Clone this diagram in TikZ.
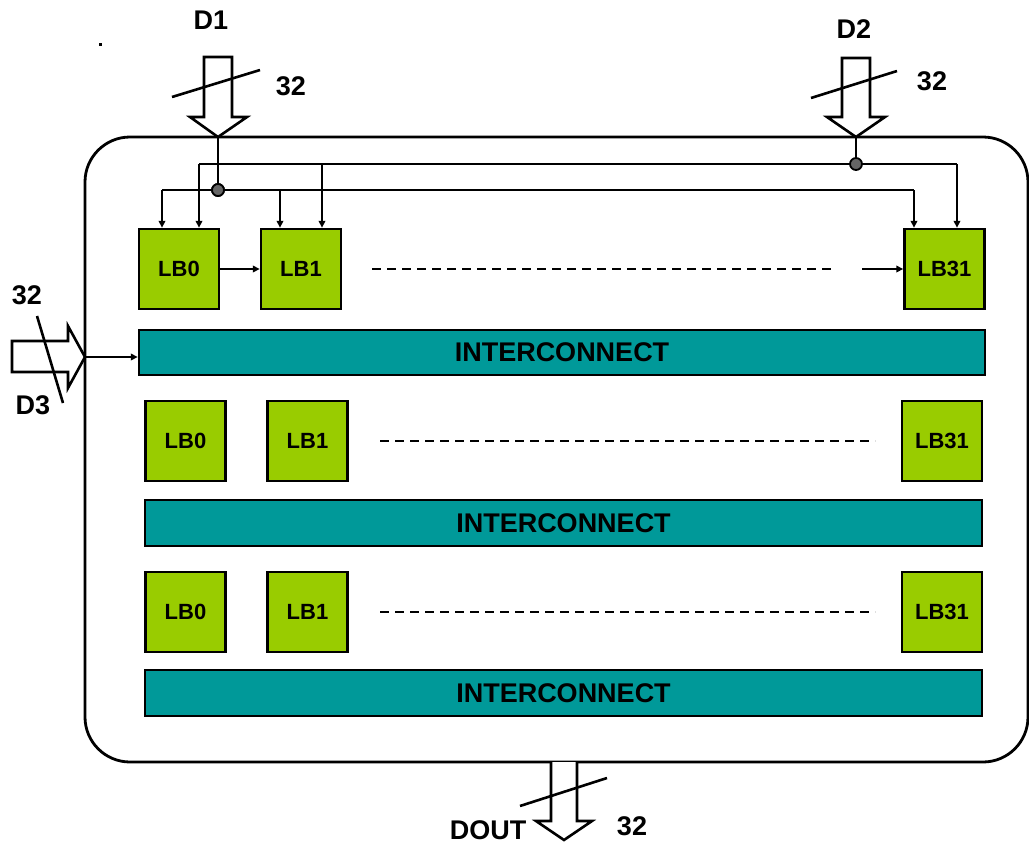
\documentclass[tikz,border=0pt]{standalone}
\usepackage{fontspec}
\setmainfont{Liberation Sans}
\usetikzlibrary{arrows.meta,calc}
\definecolor{lbgreen}{HTML}{99CC00}
\definecolor{icteal}{HTML}{009999}
\tikzset{
  lb/.style={draw=black, line width=2.4pt, fill=lbgreen, minimum width=80pt, minimum height=80pt,
             inner sep=0pt, font=\fontsize{22}{22}\selectfont\bfseries},
  ic/.style={draw=black, line width=2.4pt, fill=icteal, inner sep=0pt,
             font=\fontsize{27}{27}\selectfont\bfseries},
  lbl/.style={font=\fontsize{27}{27}\selectfont\bfseries, inner sep=0pt},
  wire/.style={line width=2.7pt},
  feed/.style={line width=2.7pt, -{Triangle[length=7pt,width=6.5pt]}},
  bus/.style={draw=black, line width=2.6pt, fill=white, line join=miter},
  slash/.style={line width=2.6pt},
  dots/.style={line width=2.8pt, dash pattern=on 9pt off 6pt},
  junction/.style={circle, draw=black, line width=1.8pt, fill=black!60, minimum size=12pt, inner sep=0pt}
}
\begin{document}
\begin{tikzpicture}[x=1pt,y=-1pt]
\useasboundingbox (0,0) rectangle (1029,844);
\fill[white] (0,0) rectangle (1029,844);

% chip outline
\draw[line width=2.8pt, rounded corners=45pt] (85,137) rectangle (1028,762);
\fill (98.5,42.5) rectangle (101.5,45.5);

% logic blocks and interconnect rows
\node[lb] (a0) at (179,269) {LB0};
\node[lb] (a1) at (301,269) {LB1};
\node[lb] (a31) at (944.5,269) {LB31};
\node[ic, minimum width=846pt, minimum height=45pt] (ic1) at (562,352.5) {INTERCONNECT};

\node[lb] (b0) at (185.5,441) {LB0};
\node[lb] (b1) at (307.5,441) {LB1};
\node[lb] (b31) at (942,441) {LB31};
\node[ic, minimum width=837pt, minimum height=46pt] (ic2) at (563.5,523) {INTERCONNECT};

\node[lb] (c0) at (185.5,612) {LB0};
\node[lb] (c1) at (307.5,612) {LB1};
\node[lb] (c31) at (942,612) {LB31};
\node[ic, minimum width=837pt, minimum height=46pt] (ic3) at (563.5,693) {INTERCONNECT};

% chain along the first row
\draw[feed] (a0) -- (a1);
\draw[dots] (372,269) -- (835,269);
\coordinate (chainin) at (862,269);
\draw[feed] (chainin) -- (a31.west);
\draw[dots] (380,441) -- (875,441);
\draw[dots] (380,612) -- (875,612);

% D1 input bus
\coordinate (d1tip) at (218,137);
\draw[bus] (204,57) -- (232,57) -- (232,117) -- (247,117) -- (d1tip) -- (190,117) -- (204,117) -- cycle;
\draw[slash] (172,97) -- (260,70);
\node[lbl] (d1) at (211,20) {D1};
\node[lbl] (d1w) at (291,86) {32};
\node[junction] (j1) at (218,190) {};
\draw[wire] (d1tip) -- (j1);
\draw[wire] (162,190) -- (914,190);
\draw[feed] (162,190) -- (162,0 |- a0.north);
\draw[feed] (280,190) -- (280,0 |- a1.north);
\draw[feed] (914,190) -- (914,0 |- a31.north);
\node[junction] at (j1) {};

% D2 input bus
\coordinate (d2tip) at (856,137);
\draw[bus] (842,58) -- (870,58) -- (870,117) -- (885,117) -- (d2tip) -- (827,117) -- (842,117) -- cycle;
\draw[slash] (811,98) -- (897,71);
\node[lbl] (d2) at (854,29) {D2};
\node[lbl] (d2w) at (932,81) {32};
\draw[wire] (d2tip) -- (856,164);
\draw[wire] (199,164) -- (957,164);
\node[junction] (j2) at (856,164) {};
\draw[feed] (199,164) -- (199,0 |- a0.north);
\draw[feed] (322,164) -- (322,0 |- a1.north);
\draw[feed] (957,164) -- (957,0 |- a31.north);

% D3 input bus
\coordinate (d3tip) at (85,357);
\draw[bus] (12,341) -- (68,341) -- (68,326) -- (d3tip) -- (68,388) -- (68,372) -- (12,372) -- cycle;
\draw[slash] (37,316) -- (63,403);
\node[lbl] (d3) at (33,405) {D3};
\node[lbl] (d3w) at (27,295) {32};
\draw[feed] (d3tip) -- (d3tip -| ic1.west);

% DOUT output bus
\draw[bus] (551,762) -- (551,821) -- (536,821) -- (564,840) -- (592,821) -- (577,821) -- (577,762);
\draw[slash] (520,806) -- (607,778);
\node[lbl] (dout) at (488,830) {DOUT};
\node[lbl] (doutw) at (632,826) {32};
\end{tikzpicture}
\end{document}
